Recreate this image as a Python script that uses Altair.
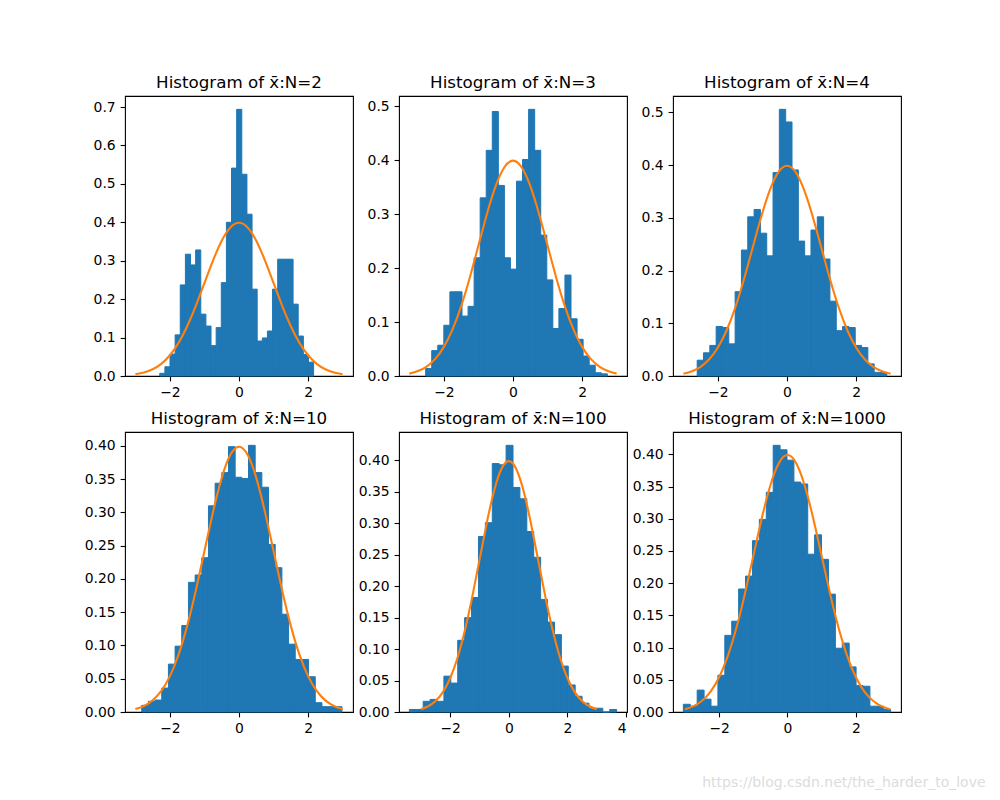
import altair as alt
import pandas as pd

# ---- data ----
titles = ["Histogram of x\u0304:N=2", "Histogram of x\u0304:N=3", "Histogram of x\u0304:N=4",
          "Histogram of x\u0304:N=10", "Histogram of x\u0304:N=100", "Histogram of x\u0304:N=1000"]

h_n2 = [0.007, 0.024, 0.057, 0.107, 0.237, 0.317, 0.289, 0.328, 0.161, 0.130,
        0.079, 0.126, 0.243, 0.400, 0.541, 0.694, 0.525, 0.421, 0.226, 0.091,
        0.099, 0.117, 0.226, 0.304, 0.304, 0.304, 0.187, 0.104, 0.056, 0.036]
h_n3 = [0.014, 0.047, 0.057, 0.094, 0.156, 0.156, 0.111, 0.129, 0.219, 0.330,
        0.418, 0.490, 0.353, 0.219, 0.198, 0.361, 0.401, 0.494, 0.418, 0.261,
        0.178, 0.088, 0.125, 0.187, 0.106, 0.068, 0.037, 0.020, 0.006, 0.004]
h_n4 = [0.030, 0.044, 0.058, 0.094, 0.092, 0.061, 0.160, 0.239, 0.302, 0.316,
        0.271, 0.228, 0.386, 0.506, 0.482, 0.391, 0.256, 0.228, 0.277, 0.302,
        0.222, 0.142, 0.086, 0.094, 0.092, 0.058, 0.054, 0.023, 0.007, 0.007]
h_n10 = [0.010, 0.016, 0.018, 0.036, 0.072, 0.099, 0.130, 0.195, 0.206, 0.232,
         0.310, 0.344, 0.360, 0.399, 0.353, 0.351, 0.401, 0.360, 0.338, 0.252,
         0.217, 0.147, 0.102, 0.079, 0.079, 0.053, 0.014, 0.008, 0.008, 0.008]
h_n100 = [0.004, 0.004, 0.017, 0.020, 0.017, 0.057, 0.046, 0.114, 0.150, 0.182,
          0.279, 0.301, 0.395, 0.393, 0.424, 0.357, 0.339, 0.287, 0.246, 0.179,
          0.143, 0.123, 0.073, 0.043, 0.025, 0.014, 0.006, 0.006, 0.0, 0.004]
h_n1000 = [0.012, 0.009, 0.034, 0.020, 0.009, 0.057, 0.119, 0.141, 0.191, 0.211,
           0.266, 0.299, 0.341, 0.414, 0.407, 0.391, 0.357, 0.354, 0.245, 0.275,
           0.237, 0.183, 0.099, 0.107, 0.070, 0.041, 0.040, 0.009, 0.009, 0.004]

bin_start = [-2.294, -2.528, -2.60, -2.816, -3.394, -3.046]
bin_end = [2.159, 2.731, 2.89, 2.98, 3.68, 3.017]

curve_x = [-3.0, -2.75, -2.5, -2.25, -2.0, -1.75, -1.5, -1.25, -1.0, -0.75, -0.5, -0.25, 0.0,
           0.25, 0.5, 0.75, 1.0, 1.25, 1.5, 1.75, 2.0, 2.25, 2.5, 2.75, 3.0]
curve_y = [0.0044, 0.0091, 0.0175, 0.0317, 0.054, 0.0863, 0.1295, 0.1826, 0.242, 0.3011, 0.3521, 0.3867, 0.3989,
           0.3867, 0.3521, 0.3011, 0.242, 0.1826, 0.1295, 0.0863, 0.054, 0.0317, 0.0175, 0.0091, 0.0044]

x_ticks = [[-2, 0, 2], [-2, 0, 2], [-2, 0, 2], [-2, 0, 2], [-2, 0, 2, 4], [-2, 0, 2]]
y_ticks = [[0.0, 0.1, 0.2, 0.3, 0.4, 0.5, 0.6, 0.7],
           [0.0, 0.1, 0.2, 0.3, 0.4, 0.5],
           [0.0, 0.1, 0.2, 0.3, 0.4, 0.5],
           [0.0, 0.05, 0.10, 0.15, 0.20, 0.25, 0.30, 0.35, 0.40],
           [0.0, 0.05, 0.10, 0.15, 0.20, 0.25, 0.30, 0.35, 0.40],
           [0.0, 0.05, 0.10, 0.15, 0.20, 0.25, 0.30, 0.35, 0.40]]
y_formats = [".1f", ".1f", ".1f", ".2f", ".2f", ".2f"]

heights = [h_n2, h_n3, h_n4, h_n10, h_n100, h_n1000]

BLUE = "#1f77b4"
ORANGE = "#ff7f0e"

curve_df = pd.DataFrame({"cx": curve_x, "cy": curve_y})


def panel(i):
    h = heights[i]
    s, e = bin_start[i], bin_end[i]
    n = len(h)
    w = (e - s) / n
    df = pd.DataFrame({
        "x0": [s + k * w for k in range(n)],
        "x1": [s + (k + 1) * w for k in range(n)],
        "h": h,
        "base": [0.0] * n,
    })
    lo = min(s, curve_x[0])
    hi = max(e, curve_x[-1])
    m = 0.05 * (hi - lo)
    xs = alt.Scale(domain=[lo - m, hi + m], nice=False, zero=False)
    ys = alt.Scale(domain=[0, max(h) * 1.05], nice=False, zero=True)
    xax = alt.Axis(values=x_ticks[i], format="d", title=None)
    yax = alt.Axis(values=y_ticks[i], format=y_formats[i], title=None)
    bars = alt.Chart(df).mark_rect(color=BLUE, stroke=BLUE, strokeWidth=1).encode(
        x=alt.X("x0:Q", scale=xs, axis=xax),
        x2="x1:Q",
        y=alt.Y("h:Q", scale=ys, axis=yax),
        y2="base:Q",
    )
    line = alt.Chart(curve_df).mark_line(color=ORANGE, strokeWidth=2.1, interpolate="natural").encode(
        x=alt.X("cx:Q", scale=xs, axis=xax),
        y=alt.Y("cy:Q", scale=ys, axis=yax),
    )
    return alt.layer(bars, line).properties(
        width=228, height=280,
        title=alt.TitleParams(titles[i], anchor="middle", offset=4,
                              font="DejaVu Sans", fontSize=16.7, fontWeight="normal", color="black"),
    )


chart = alt.concat(
    *[panel(i) for i in range(6)],
    columns=3,
    spacing={"row": 56, "column": 46},
    bounds="flush",
).properties(
    padding={"left": 75, "top": 66, "right": 0, "bottom": 5},
    title=alt.TitleParams("https://blog.csdn.net/the_harder_to_love", orient="bottom", anchor="end",
                          dx=84, offset=40, font="DejaVu Sans", fontSize=14, fontWeight="normal",
                          color="#dcdcdc"),
).configure_view(
    stroke="black", strokeWidth=1.1
).configure_axis(
    domain=False, grid=False, ticks=True, tickColor="black", tickSize=4.9, tickWidth=1.1,
    labelPadding=4.9, labelFont="DejaVu Sans", labelFontSize=13.9, labelColor="black"
)

chart.save("out.html", embed_options={"renderer": "svg", "actions": False})
